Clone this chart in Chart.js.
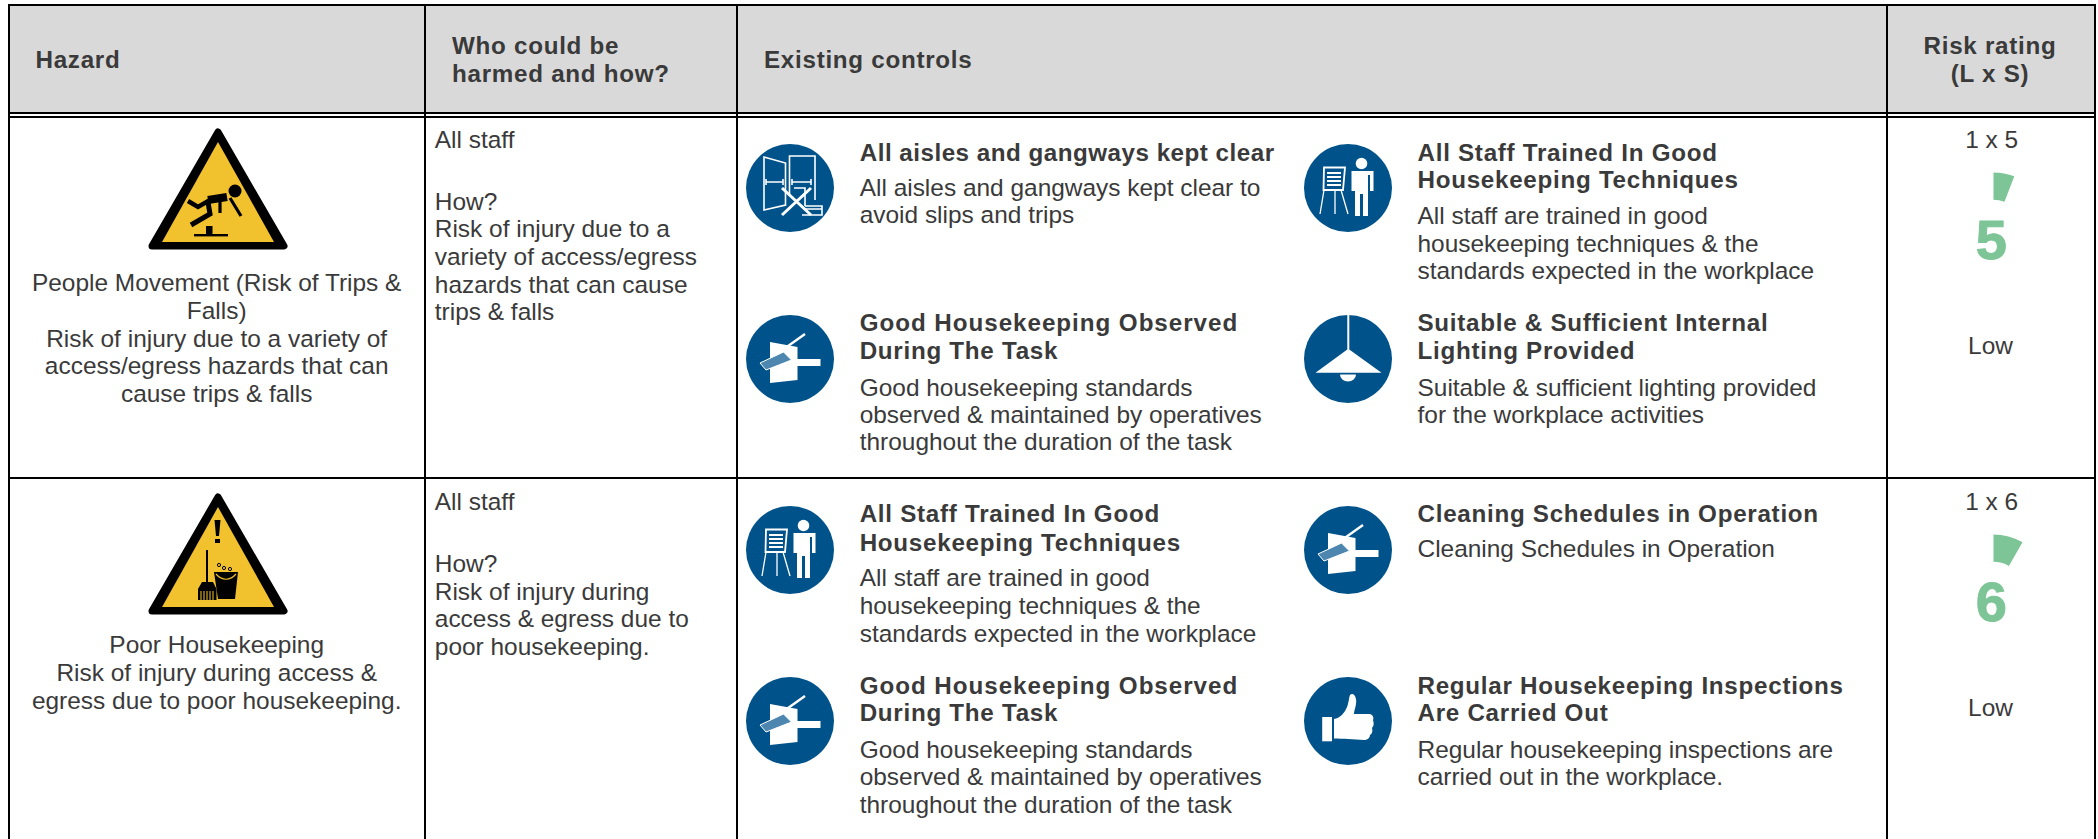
<!DOCTYPE html>
<html>
<head>
<meta charset="utf-8">
<script src="https://cdn.jsdelivr.net/npm/chart.js@4"></script>
<style>
html, body { margin: 0; padding: 0; background: #fff; }
#sheet { position: relative; width: 2098px; height: 839px; overflow: hidden; font-family: "Liberation Sans", Arial, sans-serif; color: #3a3a3a; }
.line { position: absolute; white-space: pre; }
.rule { position: absolute; background: #000; }
#sheet svg, #sheet canvas { position: absolute; }
</style>
</head>
<body>
<div id="sheet"></div>
<script>
// Gauge values
const ratings = ["1 x 5", "1 x 6"];
const scores = ["5", "6"];
const levels = ["Low", "Low"];
const sweepDegrees = [21, 30]; // size of green wedge in each gauge
const gaugeTops = [172, 534];
const gaugeColor = "#7dc596";

const headers = [
    { lines: ["Hazard"], x: 35.5, base: [67.7] },
    { lines: ["Who could be", "harmed and how?"], x: 452, base: [53, 81] },
    { lines: ["Existing controls"], x: 764, base: [67.7] },
    { lines: ["Risk rating", "(L x S)"], x: 1990, base: [53, 81], center: true }
];

const hazardText = [
    ["People Movement (Risk of Trips &", "Falls)", "Risk of injury due to a variety of", "access/egress hazards that can", "cause trips & falls"],
    ["Poor Housekeeping", "Risk of injury during access &", "egress due to poor housekeeping."]
];
const hazardBase = [[290.7, 318.4, 346.2, 374, 401.7], [653, 680.7, 708.4]];

const whoText = [
    ["All staff"],
    ["All staff"]
];
const whoBase = [[147.7], [510]];
const howText = [
    ["How?", "Risk of injury due to a", "variety of access/egress", "hazards that can cause", "trips & falls"],
    ["How?", "Risk of injury during", "access & egress due to", "poor housekeeping."]
];
const howBase = [[209.3, 237, 264.7, 292.4, 320], [571.7, 599.4, 627, 654.7]];

const controls = [
    { icon: "aisle", cx: 790, cy: 187.5, x: 859.7, title: ["All aisles and gangways kept clear"], tb: [160], desc: ["All aisles and gangways kept clear to", "avoid slips and trips"], db: [196, 223] },
    { icon: "broom", cx: 790, cy: 359, x: 859.7, title: ["Good Housekeeping Observed", "During The Task"], tb: [330.7, 358.7], desc: ["Good housekeeping standards", "observed & maintained by operatives", "throughout the duration of the task"], db: [396, 423, 450] },
    { icon: "train", cx: 1348, cy: 187.5, x: 1417.5, title: ["All Staff Trained In Good", "Housekeeping Techniques"], tb: [160, 187.5], desc: ["All staff are trained in good", "housekeeping techniques & the", "standards expected in the workplace"], db: [224, 251.7, 279] },
    { icon: "lamp", cx: 1348, cy: 359, x: 1417.5, title: ["Suitable & Sufficient Internal", "Lighting Provided"], tb: [330.7, 358.7], desc: ["Suitable & sufficient lighting provided", "for the workplace activities"], db: [396, 423] },
    { icon: "train", cx: 790, cy: 549.7, x: 859.7, title: ["All Staff Trained In Good", "Housekeeping Techniques"], tb: [521.7, 550], desc: ["All staff are trained in good", "housekeeping techniques & the", "standards expected in the workplace"], db: [586, 614, 641.7] },
    { icon: "broom", cx: 790, cy: 721, x: 859.7, title: ["Good Housekeeping Observed", "During The Task"], tb: [693.3, 720.7], desc: ["Good housekeeping standards", "observed & maintained by operatives", "throughout the duration of the task"], db: [757.3, 785, 812.3] },
    { icon: "broom", cx: 1348, cy: 549.7, x: 1417.5, title: ["Cleaning Schedules in Operation"], tb: [521.7], desc: ["Cleaning Schedules in Operation"], db: [557] },
    { icon: "thumb", cx: 1348, cy: 721, x: 1417.5, title: ["Regular Housekeeping Inspections", "Are Carried Out"], tb: [693.3, 720.7], desc: ["Regular housekeeping inspections are", "carried out in the workplace."], db: [757.3, 785] }
];

// the source's bold lines are not evenly tracked
const tightTitles = { "All aisles and gangways kept clear": 0.5, "Good Housekeeping Observed": 0.96 };

const sheet = document.getElementById("sheet");

function addLine(text, x, base, opts) {
    opts = opts || {};
    const size = opts.size || (opts.bold ? 24.2 : 24.45);
    const d = document.createElement("div");
    d.className = "line";
    d.textContent = text;
    d.style.fontSize = size + "px";
    d.style.lineHeight = "1";
    // baseline sits about .8465em down a 1em line box, reference runs 1px lower
    d.style.top = (base + 1 - size * 0.8465) + "px";
    d.style.left = x + "px";
    if (opts.center) d.style.transform = "translateX(-50%)";
    if (opts.bold) {
        d.style.fontWeight = "bold";
        d.style.letterSpacing = (tightTitles[text] || 0.72) + "px";
    }
    if (opts.color) d.style.color = opts.color;
    sheet.appendChild(d);
    return d;
}

function addRule(x, y, w, h) {
    const d = document.createElement("div");
    d.className = "rule";
    d.style.cssText = "left:" + x + "px;top:" + y + "px;width:" + w + "px;height:" + h + "px";
    sheet.appendChild(d);
}

// header band and grid
const band = document.createElement("div");
band.style.cssText = "position:absolute;left:9px;top:6px;width:2085px;height:107px;background:#d9d9d9";
sheet.appendChild(band);
addRule(8, 4, 2088, 2);
addRule(8, 112, 2088, 2);
addRule(8, 116, 2088, 2);
addRule(8, 477, 2088, 2);
[8, 424, 736, 1886, 2094].forEach(function (x) { addRule(x, 4, 2, 835); });

headers.forEach(function (h) {
    h.lines.forEach(function (t, i) {
        addLine(t, h.x, h.base[i], { bold: true, center: h.center });
    });
});

hazardText.forEach(function (lines, r) {
    lines.forEach(function (t, i) { addLine(t, 216.7, hazardBase[r][i], { center: true }); });
});
whoText.forEach(function (lines, r) {
    lines.forEach(function (t, i) { addLine(t, 434.8, whoBase[r][i]); });
});
howText.forEach(function (lines, r) {
    lines.forEach(function (t, i) { addLine(t, 434.8, howBase[r][i]); });
});

controls.forEach(function (c) {
    c.title.forEach(function (t, i) { addLine(t, c.x, c.tb[i], { bold: true }); });
    c.desc.forEach(function (t, i) { addLine(t, c.x, c.db[i]); });
});

// control icons, drawn in a 88x88 box
const iconArt = {
    aisle: '<g fill="none" stroke="#fff" stroke-width="1.6"><path d="M18 13L39.5 19V61L18 66Z"/><path d="M43.5 50V12H69V56"/><path d="M20 38H37.5M45.5 38H65M20 35V41M37 35V41M46 35V41M65 35V41"/><path d="M48 44H59V62M59 62H76V71H56M59 65H76"/></g><path d="M36 44L65 71M65 44L36 71" stroke="#fff" stroke-width="3" fill="none"/>',
    broom: '<path d="M24 27L51.5 32V44H74.5V51H51.5V65L24 68Z" fill="#fff"/><path d="M59 19L28 41" stroke="#fff" stroke-width="2.4"/><path d="M14 48L37.5 37L45.5 45L20 55Z" fill="#4d86ae" stroke="#fff" stroke-width="1"/>',
    train: '<circle cx="57.5" cy="19.5" r="5.8" fill="#fff"/><path d="M47.5 27H69.5V47H66V31H64V72H59V50H56V72H51V31H51V47H47.5Z" fill="#fff"/><path d="M20 23.5H41L39 46H19.5ZM23 29H37M23 33H37M23 37H37M23 41H37" fill="none" stroke="#fff" stroke-width="1.8"/><path d="M20 46L16 70M31 46V70M37 46L44 70" stroke="#fff" stroke-width="1.3" fill="none"/>',
    lamp: '<path d="M43.3 0H45.3V34.5L77.5 57.7H11.5L43.3 34.5Z" fill="#fff"/><path d="M36 59.5A8 7 0 0 0 52 59.5Z" fill="#fff"/>',
    thumb: '<path d="M18.2 40H28V64.3H18.2Z" fill="#fff"/><path d="M30 42C36 41 40 37 43 30C45 25 45 20 46 18C48 16 51 17 52 22C53 28 50 33 50 37H66C69 38 70 41 69 43C70 46 70 49 68 51C69 54 68 57 66 58C66 61 63 63 60 63C50 62 38 62 30 61.5Z" fill="#fff"/>'
};
controls.forEach(function (c) {
    const box = document.createElementNS("http://www.w3.org/2000/svg", "svg");
    box.setAttribute("width", 88);
    box.setAttribute("height", 88);
    box.setAttribute("viewBox", "0 0 88 88");
    box.style.left = (c.cx - 44) + "px";
    box.style.top = (c.cy - 44) + "px";
    box.innerHTML = '<circle cx="44" cy="44" r="44" fill="#00538a"/>' + iconArt[c.icon];
    sheet.appendChild(box);
});

// hazard warning signs
const signArt = [
    '<circle cx="87" cy="63" r="6.5"/><path d="M79 69L60 72" stroke="#000" stroke-width="8" fill="none"/><path d="M62 72L50 79L40 73" stroke="#000" stroke-width="4.5" fill="none"/><path d="M77 70L72 73L72 85M82 70L93 88" stroke="#000" stroke-width="3.2" fill="none"/><path d="M60 74L62 86L43 97" stroke="#000" stroke-width="5" fill="none"/><rect x="58" y="98" width="6.5" height="9"/><rect x="46" y="106" width="34" height="2.4"/>',
    '<path d="M66.5 27H72.5L71 43H68ZM67 46H72V50H67Z"/><rect x="58" y="57" width="2" height="32"/><path d="M54 89H65L68.5 96H50Z"/><path d="M50 96H68.5V107H50Z" fill="#000"/><path d="M53 98V107M56 98V107M59 98V107M62 98V107M65 98V107" stroke="#f2c12e" stroke-width="1"/><path d="M66 79H90L87 106H70Z"/><path d="M68 81C74 88 82 88 88 81" stroke="#f2c12e" stroke-width="1.2" fill="none"/><circle cx="71" cy="72" r="1.6" fill="none" stroke="#000"/><circle cx="76" cy="75" r="1.6" fill="none" stroke="#000"/><circle cx="82" cy="76" r="1.6" fill="none" stroke="#000"/>'
];
[128, 493].forEach(function (top, i) {
    const s = document.createElementNS("http://www.w3.org/2000/svg", "svg");
    s.setAttribute("width", 140);
    s.setAttribute("height", 122);
    s.setAttribute("viewBox", "0 0 140 122");
    s.style.left = "148px";
    s.style.top = top + "px";
    s.innerHTML = '<path d="M70 4L136 118H4Z" fill="#000" stroke="#000" stroke-width="7" stroke-linejoin="round"/><path d="M70 14L126 114H14Z" fill="#f2c12e"/>' + signArt[i];
    sheet.appendChild(s);
});

// risk rating column: the wedge is a doughnut, everything else real text
ratings.forEach(function (rating, i) {
    const base = i === 0 ? 147.7 : 510;
    addLine(rating, 1991.7, base, { center: true });
    addLine(levels[i], 1990.5, base + 205.7, { center: true });

    const canvas = document.createElement("canvas");
    canvas.width = 117;
    canvas.height = 117;
    canvas.style.left = "1935px";
    canvas.style.top = gaugeTops[i] + "px";
    canvas.style.width = "117px";
    canvas.style.height = "117px";
    sheet.appendChild(canvas);
    new Chart(canvas.getContext("2d"), {
        type: "doughnut",
        data: {
            labels: ["Score", "Rest"],
            datasets: [{
                data: [sweepDegrees[i], 360 - sweepDegrees[i]],
                backgroundColor: [gaugeColor, "rgba(0,0,0,0)"],
                borderWidth: 0
            }]
        },
        options: {
            responsive: false,
            animation: false,
            radius: 58,
            cutout: 31,
            layout: { padding: 0 },
            plugins: { legend: { display: false }, tooltip: { enabled: false } }
        }
    });

    const score = addLine(scores[i], 1991.3, base + 110.7, { center: true, size: 56, color: gaugeColor });
    score.style.fontWeight = "bold";
    score.style.webkitTextStroke = "1px " + gaugeColor;
});
</script>
</body>
</html>
